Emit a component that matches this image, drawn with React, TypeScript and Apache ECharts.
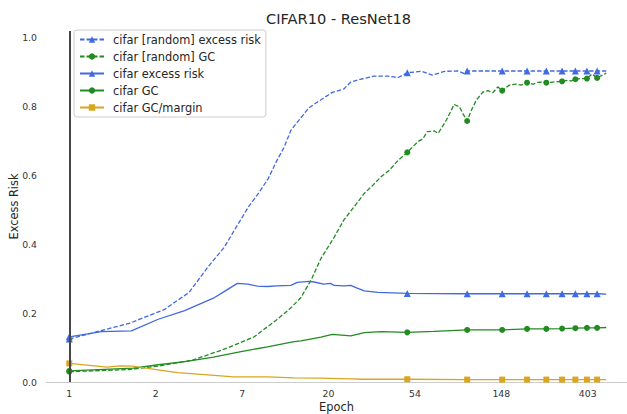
import React, { useEffect, useRef } from 'react';
import * as echarts from 'echarts';

const seriesNames = [
  'cifar [random] excess risk',
  'cifar [random] GC',
  'cifar excess risk',
  'cifar GC',
  'cifar GC/margin',
];

const markerEpochs = [1, 50, 100, 150, 200, 250, 300, 350, 400, 450];

const xTickValues = [1, 2, 7, 20, 54, 148, 403];
const yTickValues = [0.0, 0.2, 0.4, 0.6, 0.8, 1.0];

const randomRiskEpochs = [1, 2, 3, 4, 5, 6, 7, 8, 9, 10, 11, 12, 13, 15, 16, 18, 21, 24, 26, 29, 34, 40, 45, 50, 59, 67, 77, 90, 96, 100, 150, 200, 250, 300, 350, 400, 450, 500];
const randomRiskValues = [0.125, 0.17, 0.21, 0.26, 0.335, 0.39, 0.455, 0.51, 0.55, 0.59, 0.64, 0.68, 0.73, 0.775, 0.795, 0.815, 0.84, 0.85, 0.87, 0.878, 0.887, 0.887, 0.883, 0.897, 0.901, 0.89, 0.901, 0.902, 0.895, 0.902, 0.902, 0.902, 0.902, 0.902, 0.902, 0.902, 0.902, 0.902];

const randomGcEpochs = [1, 2, 2.8, 4.2, 6.2, 8.5, 11, 13, 14.6, 16.5, 18.4, 21.5, 24, 27, 30.4, 33.6, 36.9, 40.6, 45, 50, 56.5, 60, 63, 68.5, 71.5, 78.5, 86, 91.5, 95, 100, 105, 111, 120, 127, 134.5, 142.6, 150, 163, 176, 187, 200, 214, 231, 250, 269, 300, 320, 333, 350, 374, 400, 424, 450, 479, 500];
const randomGcValues = [0.030, 0.036, 0.046, 0.064, 0.098, 0.131, 0.180, 0.215, 0.245, 0.298, 0.358, 0.421, 0.470, 0.508, 0.547, 0.571, 0.595, 0.614, 0.643, 0.666, 0.697, 0.706, 0.726, 0.728, 0.721, 0.759, 0.805, 0.798, 0.779, 0.757, 0.788, 0.817, 0.841, 0.845, 0.839, 0.856, 0.845, 0.861, 0.864, 0.861, 0.868, 0.864, 0.870, 0.868, 0.870, 0.872, 0.875, 0.873, 0.878, 0.880, 0.880, 0.893, 0.882, 0.890, 0.896];

const riskEpochs = [1, 1.45, 2.05, 2.8, 3.8, 5.3, 6, 7, 7.9, 8.8, 9.9, 11, 13, 14, 16, 17, 19, 20.6, 21.4, 24, 26, 27.6, 30.4, 35.6, 50, 100, 150, 200, 250, 300, 350, 400, 450, 500];
const riskValues = [0.131, 0.146, 0.148, 0.182, 0.207, 0.243, 0.262, 0.286, 0.284, 0.278, 0.277, 0.279, 0.280, 0.289, 0.292, 0.290, 0.284, 0.286, 0.280, 0.279, 0.280, 0.274, 0.264, 0.260, 0.257, 0.256, 0.256, 0.256, 0.256, 0.256, 0.256, 0.256, 0.256, 0.255];

const gcEpochs = [1, 2.1, 2.8, 3.9, 5.3, 7.3, 9.9, 13.5, 14.6, 18.4, 21, 26, 30.4, 37, 50, 68, 100, 150, 200, 250, 300, 350, 400, 450, 500];
const gcValues = [0.032, 0.040, 0.050, 0.060, 0.072, 0.088, 0.102, 0.117, 0.119, 0.130, 0.138, 0.134, 0.143, 0.146, 0.144, 0.147, 0.151, 0.151, 0.154, 0.154, 0.155, 0.156, 0.157, 0.157, 0.158];

const marginEpochs = [1, 1.55, 1.8, 2.07, 2.8, 3.5, 4.6, 6.7, 9.9, 13.5, 18, 26, 30, 50, 100, 150, 200, 250, 300, 350, 400, 450, 500];
const marginValues = [0.054, 0.043, 0.047, 0.046, 0.035, 0.027, 0.022, 0.015, 0.015, 0.012, 0.011, 0.009, 0.008, 0.008, 0.007, 0.007, 0.007, 0.007, 0.007, 0.007, 0.007, 0.007, 0.007];

const BLUE = '#4169E1';
const GREEN = '#228B22';
const GOLD = '#DAA520';
const FONT = 'DejaVu Sans';

function buildData(epochs: number[], values: number[], symbol: string, size: number) {
  return epochs.map((e, i) =>
    markerEpochs.includes(e)
      ? { value: [e, values[i]], symbol, symbolSize: size }
      : { value: [e, values[i]], symbol: 'none' }
  );
}

function makeSeries(name: string, epochs: number[], values: number[], color: string, dashed: boolean, symbol: string, size: number) {
  return {
    name,
    type: 'line',
    data: buildData(epochs, values, symbol, size),
    symbol,
    symbolSize: size,
    showSymbol: true,
    color,
    itemStyle: { color },
    lineStyle: { color, width: 1.3, type: dashed ? [4.5, 2] : 'solid' },
    emphasis: { disabled: true },
    z: 3,
  };
}

export default function App() {
  const ref = useRef<HTMLDivElement>(null);
  useEffect(() => {
    const chart = echarts.init(ref.current!, null, { renderer: 'svg' });
    const option: any = {
      animation: false,
      backgroundColor: '#ffffff',
      textStyle: { fontFamily: FONT },
      title: {
        text: 'CIFAR10 - ResNet18',
        left: 266,
        top: 11,
        padding: 0,
        textStyle: { fontFamily: FONT, fontSize: 14.6, fontWeight: 'normal', color: '#262626' },
      },
      legend: {
        data: seriesNames,
        orient: 'vertical',
        left: 74,
        top: 30,
        padding: [3, 5, 3, 5],
        itemWidth: 24,
        itemHeight: 8,
        itemGap: 4,
        backgroundColor: '#ffffff',
        borderColor: '#cccccc',
        borderWidth: 1,
        borderRadius: 3,
        textStyle: { fontFamily: FONT, fontSize: 11.4, color: '#262626', lineHeight: 13, padding: [0, 0, 0, 4] },
      },
      grid: { left: 46, right: 0, top: 31, bottom: 32, containLabel: false, outerBoundsMode: 'none' },
      xAxis: {
        type: 'log',
        logBase: Math.E,
        min: 0.7636,
        max: 636,
        name: 'Epoch',
        nameLocation: 'middle',
        nameGap: 19,
        nameMoveOverlap: false,
        nameTextStyle: { fontFamily: FONT, fontSize: 11.4, color: '#262626' },
        axisLine: { show: true, lineStyle: { color: '#cccccc', width: 1 } },
        axisTick: { show: false },
        splitLine: { show: false },
        axisLabel: {
          fontFamily: FONT,
          fontSize: 9.3,
          color: '#333333',
          margin: 7,
          showMinLabel: true,
          showMaxLabel: true,
          formatter: (v: number) => {
            const f = Math.floor(v + 1e-6);
            return xTickValues.includes(f) && v > 0.99 && v < 500 ? String(f) : '';
          },
        },
      },
      yAxis: {
        type: 'value',
        min: 0,
        max: 1.018,
        interval: 0.2,
        name: 'Excess Risk',
        nameLocation: 'middle',
        nameGap: 27,
        nameMoveOverlap: false,
        nameTextStyle: { fontFamily: FONT, fontSize: 11.4, color: '#262626' },
        axisLine: { show: false },
        axisTick: { show: false },
        splitLine: { show: false },
        axisLabel: {
          fontFamily: FONT,
          fontSize: 9.3,
          color: '#333333',
          margin: 9,
          showMaxLabel: true,
          formatter: (v: number) => {
            const hit = yTickValues.find((t) => Math.abs(t - v) < 1e-6);
            return hit !== undefined ? hit.toFixed(1) : '';
          },
        },
      },
      series: [
        {
          name: 'epoch-one-line',
          type: 'line',
          data: [],
          z: 1,
          markLine: {
            silent: true,
            symbol: 'none',
            label: { show: false },
            lineStyle: { color: '#474747', width: 2, type: 'solid' },
            data: [{ xAxis: 1 }],
          },
        },
        makeSeries(seriesNames[0], randomRiskEpochs, randomRiskValues, BLUE, true, 'triangle', 7),
        makeSeries(seriesNames[1], randomGcEpochs, randomGcValues, GREEN, true, 'circle', 6),
        makeSeries(seriesNames[2], riskEpochs, riskValues, BLUE, false, 'triangle', 7),
        makeSeries(seriesNames[3], gcEpochs, gcValues, GREEN, false, 'circle', 6),
        makeSeries(seriesNames[4], marginEpochs, marginValues, GOLD, false, 'rect', 6),
      ],
    };
    chart.setOption(option);
    return () => chart.dispose();
  }, []);
  return (
    <div
      ref={ref}
      style={{ position: 'fixed', left: 0, top: 0, width: 627, height: 414, background: '#ffffff' }}
    />
  );
}
